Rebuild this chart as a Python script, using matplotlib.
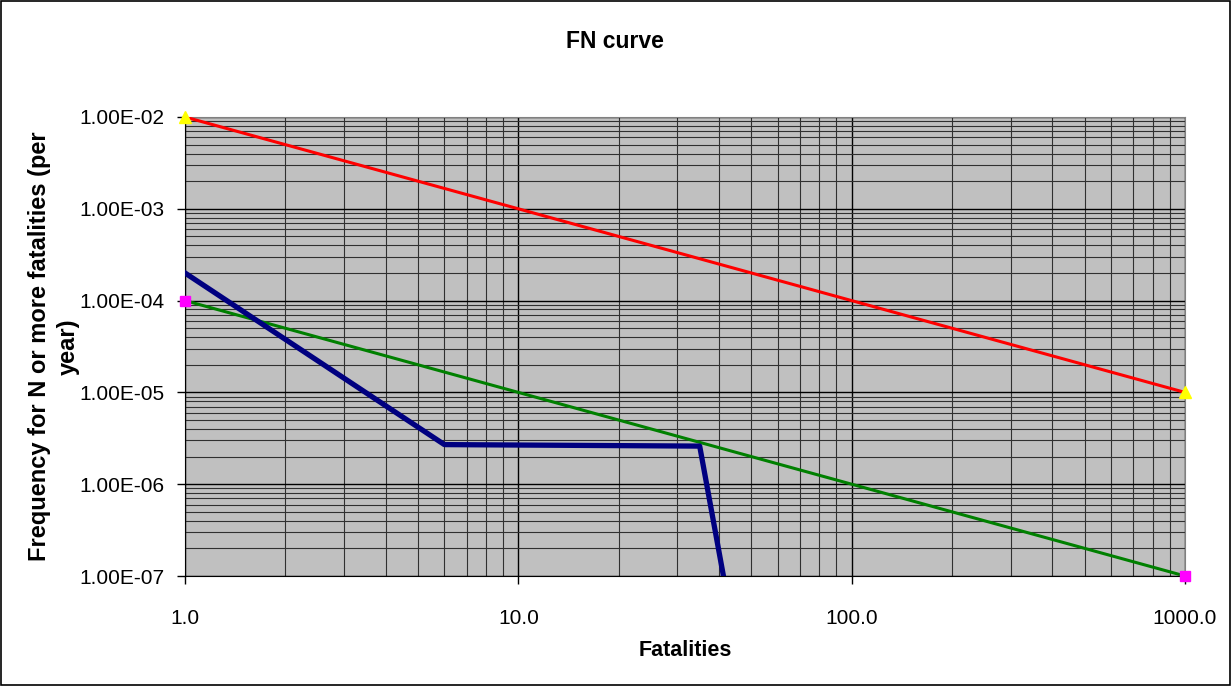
import matplotlib.pyplot as plt
import numpy as np
from matplotlib.ticker import FixedLocator, FuncFormatter, NullFormatter

plt.rcParams['font.family'] = ['Liberation Sans', 'DejaVu Sans']

# criterion lines
n_crit = np.arange(1, 1001)
upper_crit = 1e-2 / n_crit
lower_crit = 1e-4 / n_crit
crit_ends = [1, 1000]
upper_ends = [1e-2, 1e-5]
lower_ends = [1e-4, 1e-7]

# FN curve of the facility
fn_n = [1, 6, 35, 52]
fn_freq = [2.0e-4, 2.7e-6, 2.6e-6, 1e-9]

fig = plt.figure(figsize=(12.31, 6.86), dpi=100)
ax = fig.add_axes([185 / 1231, 1 - 576 / 686, 1000 / 1231, 459 / 686])
ax.set_facecolor('#c0c0c0')

ax.set_xscale('log')
ax.set_yscale('log')
ax.set_xlim(1, 1000)
ax.set_ylim(1e-7, 1e-2)

ax.plot(n_crit, upper_crit, color='#ff0000', lw=2.2, zorder=3)
ax.plot(n_crit, lower_crit, color='#008000', lw=2.2, zorder=3)
ax.plot(fn_n, fn_freq, color='#000080', lw=3.8, zorder=4)
ax.plot(crit_ends, upper_ends, ls='none', marker='^', color='#ffff00', ms=8, zorder=5, clip_on=False)
ax.plot(crit_ends, lower_ends, ls='none', marker='s', color='#ff00ff', ms=6.5, zorder=5, clip_on=False)

ax.xaxis.set_major_locator(FixedLocator([1, 10, 100, 1000]))
ax.xaxis.set_major_formatter(FuncFormatter(lambda v, p: '%.1f' % v))
ax.xaxis.set_minor_locator(FixedLocator([m * 10 ** e for e in range(0, 3) for m in range(2, 10)]))
ax.xaxis.set_minor_formatter(NullFormatter())
ax.yaxis.set_major_locator(FixedLocator([10.0 ** e for e in range(-7, -1)]))
ax.yaxis.set_major_formatter(FuncFormatter(lambda v, p: '%.2E' % v))
ax.yaxis.set_minor_locator(FixedLocator([m * 10.0 ** e for e in range(-7, -2) for m in range(2, 10)]))
ax.yaxis.set_minor_formatter(NullFormatter())

ax.grid(True, which='major', color='black', lw=1.0, zorder=1)
ax.grid(True, which='minor', color='#303030', lw=0.8, zorder=1)
ax.set_axisbelow(True)

ax.tick_params(which='major', direction='out', length=6, labelsize=15, width=1)
ax.tick_params(which='minor', length=0)
ax.tick_params(axis='x', pad=18)
ax.tick_params(axis='y', pad=9)
for side in ['top', 'right']:
    ax.spines[side].set_color('#808080')

fig.text(615 / 1231, 1 - 41 / 686, 'FN curve', fontsize=16.5, fontweight='bold',
         ha='center', va='center')
ax.set_xlabel('Fatalities', fontsize=15.5, fontweight='bold', va='center')
ax.xaxis.set_label_coords(0.5, -(650 - 576) / 459)
ax.set_ylabel('Frequency for N or more fatalities (per\nyear)', fontsize=17,
              fontweight='bold', va='center', linespacing=1.3)
ax.yaxis.set_label_coords((54 - 185) / 1000, 0.5)

fig.patches.append(plt.Rectangle((0.0005, 0.001), 0.999, 0.998, transform=fig.transFigure,
                                 fill=False, edgecolor='black', lw=1.2))

fig.savefig('out.png', dpi=100)
